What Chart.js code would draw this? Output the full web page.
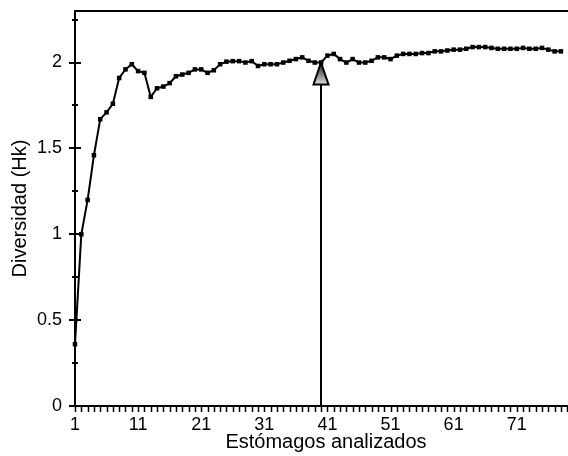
<!DOCTYPE html>
<html>
<head>
<meta charset="utf-8">
<script src="https://cdn.jsdelivr.net/npm/chart.js@4"></script>
<style>
  html, body { margin: 0; padding: 0; background: #fff; overflow: hidden; width: 568px; height: 456px; }
  canvas { display: block; }
</style>
</head>
<body>
<!-- the original figure is cut on the right, so the canvas runs past the window -->
<canvas id="chart" width="581" height="456"></canvas>
<script>
// number of stomachs analysed (x) and cumulative diversity Hk (y)
const stomachs = [
  1, 2, 3, 4, 5, 6, 7, 8, 9, 10,
  11, 12, 13, 14, 15, 16, 17, 18, 19, 20,
  21, 22, 23, 24, 25, 26, 27, 28, 29, 30,
  31, 32, 33, 34, 35, 36, 37, 38, 39, 40,
  41, 42, 43, 44, 45, 46, 47, 48, 49, 50,
  51, 52, 53, 54, 55, 56, 57, 58, 59, 60,
  61, 62, 63, 64, 65, 66, 67, 68, 69, 70,
  71, 72, 73, 74, 75, 76, 77, 78
];
const diversity = [
  0.36, 1.00, 1.20, 1.46, 1.67, 1.71, 1.76, 1.91, 1.96, 1.99,
  1.95, 1.94, 1.80, 1.85, 1.86, 1.88, 1.92, 1.93, 1.94, 1.96,
  1.96, 1.94, 1.955, 1.99, 2.005, 2.008, 2.008, 2.00, 2.008, 1.98,
  1.99, 1.99, 1.99, 2.00, 2.01, 2.02, 2.03, 2.01, 2.00, 2.00,
  2.04, 2.05, 2.02, 2.00, 2.02, 2.00, 2.00, 2.01, 2.03, 2.03,
  2.02, 2.04, 2.05, 2.05, 2.05, 2.055, 2.055, 2.065, 2.065, 2.07,
  2.075, 2.075, 2.08, 2.09, 2.09, 2.09, 2.085, 2.08, 2.08, 2.08,
  2.08, 2.085, 2.08, 2.08, 2.085, 2.075, 2.065, 2.065
];
const xTickLabels = [1, 11, 21, 31, 41, 51, 61, 71];
const yTickLabels = [0, 0.5, 1, 1.5, 2];
const yMinorStep = 0.25;

// arrow marking the stabilisation point
const arrowAt = 40;
const arrowTop = 2.0;

const FONT = '"Liberation Sans", Arial, sans-serif';

const framePlugin = {
  id: 'frame',
  afterDatasetsDraw(chart) {
    const { ctx, chartArea: a, scales: { x, y } } = chart;
    ctx.save();
    ctx.strokeStyle = '#000';
    ctx.lineCap = 'butt';

    // x minor ticks, one per stomach
    ctx.lineWidth = 1.5;
    ctx.beginPath();
    for (let v = Math.ceil(x.min); v <= x.max; v++) {
      const px = Math.round(x.getPixelForValue(v)) + 0.5;
      ctx.moveTo(px, a.bottom);
      ctx.lineTo(px, a.bottom + 6);
    }
    ctx.stroke();

    // y ticks crossing the axis
    ctx.lineWidth = 2;
    ctx.beginPath();
    for (let v = 0; v <= y.max + 1e-9; v += yMinorStep) {
      const py = Math.round(y.getPixelForValue(v));
      const major = yTickLabels.some(t => Math.abs(t - v) < 1e-9);
      const half = major ? 6 : 3;
      ctx.moveTo(a.left - half, py);
      ctx.lineTo(a.left + half, py);
    }
    ctx.stroke();

    // frame: left, top, bottom
    ctx.lineWidth = 2;
    ctx.beginPath();
    ctx.moveTo(a.left, a.bottom);
    ctx.lineTo(a.left, a.top);
    ctx.lineTo(a.right, a.top);
    ctx.moveTo(a.left - 6, a.bottom);
    ctx.lineTo(a.right, a.bottom);
    ctx.stroke();

    // arrow
    const ax = Math.round(x.getPixelForValue(arrowAt));
    const tipY = y.getPixelForValue(arrowTop);
    const baseY = tipY + 22;
    ctx.lineWidth = 2;
    ctx.beginPath();
    ctx.moveTo(ax, a.bottom);
    ctx.lineTo(ax, baseY);
    ctx.stroke();
    const g = ctx.createLinearGradient(0, tipY, 0, baseY);
    g.addColorStop(0, '#1a1a1a');
    g.addColorStop(0.5, '#7a7a7a');
    g.addColorStop(1, '#e0e0e0');
    ctx.beginPath();
    ctx.moveTo(ax, tipY);
    ctx.lineTo(ax - 7.5, baseY);
    ctx.lineTo(ax + 7.5, baseY);
    ctx.closePath();
    ctx.fillStyle = g;
    ctx.fill();
    ctx.lineJoin = 'miter';
    ctx.stroke();
    ctx.restore();
  }
};

new Chart(document.getElementById('chart').getContext('2d'), {
  type: 'line',
  data: {
    datasets: [{
      data: stomachs.map((s, i) => ({ x: s, y: diversity[i] })),
      borderColor: '#000',
      backgroundColor: '#000',
      borderWidth: 2,
      pointStyle: 'rect',
      pointRadius: 3.2,
      pointBorderWidth: 0,
      tension: 0,
      clip: false
    }]
  },
  options: {
    responsive: false,
    animation: false,
    devicePixelRatio: 1,
    layout: { padding: { top: 11, right: 0, bottom: 0, left: 0 } },
    plugins: { legend: { display: false }, tooltip: { enabled: false } },
    scales: {
      x: {
        type: 'linear',
        min: 1,
        max: 80.55,
        afterBuildTicks: s => { s.ticks = xTickLabels.map(v => ({ value: v })); },
        afterFit: s => { s.height = 50; s.paddingLeft = 0; s.paddingRight = 0; },
        grid: { display: false },
        border: { display: false },
        ticks: { color: '#000', font: { family: FONT, size: 18 }, padding: 0, maxRotation: 0, autoSkip: false },
        title: { display: true, text: 'Estómagos analizados', color: '#000', font: { family: FONT, size: 20 }, padding: { top: 0, bottom: 2 } }
      },
      y: {
        min: 0,
        max: 2.3,
        afterBuildTicks: s => { s.ticks = yTickLabels.map(v => ({ value: v })); },
        afterFit: s => { s.width = 75; s.paddingTop = 0; s.paddingBottom = 0; },
        grid: { display: false },
        border: { display: false },
        ticks: { color: '#000', font: { family: FONT, size: 18 }, padding: 5, callback: v => String(v) },
        title: { display: true, text: 'Diversidad (Hk)', color: '#000', font: { family: FONT, size: 20 }, padding: { top: 8, bottom: 0 } }
      }
    }
  },
  plugins: [framePlugin]
});
</script>
</body>
</html>
